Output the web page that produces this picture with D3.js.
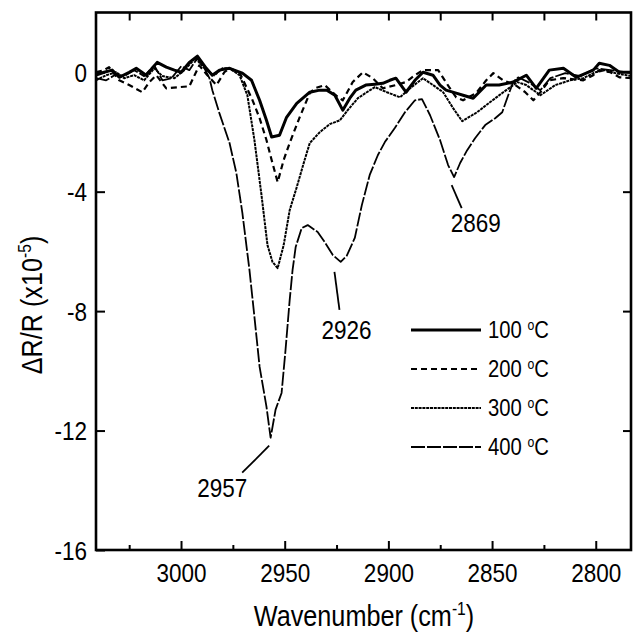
<!DOCTYPE html>
<html><head><meta charset="utf-8">
<script src="https://cdn.jsdelivr.net/npm/d3@7"></script>
<style>html,body{margin:0;padding:0;background:#fff}svg{display:block}</style>
</head><body><svg id="c" width="636" height="635"></svg>
<script>
// ---- data (wavenumber in cm^-1, dR/R in units of 1e-5) ----
const wn100=[3041.0,3037.1,3033.2,3029.8,3025.0,3021.6,3016.8,3011.5,3007.1,3003.2,2999.9,2996.0,2992.1,2987.8,2984.9,2981.5,2976.6,2970.4,2966.0,2962.1,2958.8,2956.3,2952.5,2949.1,2944.2,2937.9,2933.1,2929.7,2925.8,2922.0,2918.6,2915.7,2910.9,2906.5,2902.7,2899.3,2896.4,2891.5,2887.2,2883.3,2878.5,2875.1,2872.2,2867.3,2864.0,2859.1,2852.8,2846.6,2839.8,2833.5,2828.7,2822.4,2815.6,2809.4,2801.2,2798.3,2793.4,2788.6,2782.8];
const r100=[-0.10,0,0.07,-0.17,0,0.13,-0.10,0.33,0.17,0.07,0,0.33,0.54,0.13,-0.10,0.07,0.13,-0.03,-0.27,-0.94,-1.61,-2.17,-2.11,-1.51,-1.04,-0.67,-0.60,-0.60,-0.77,-1.27,-0.87,-0.60,-0.43,-0.40,-0.37,-0.27,-0.20,-0.67,-0.27,0,-0.10,-0.43,-0.60,-0.70,-0.77,-0.87,-0.43,-0.43,-0.33,-0.10,-0.54,0.07,0.13,-0.17,0.07,0.30,0.23,0,0];

const wn200=[3041.0,3037.1,3034.7,3029.8,3025.0,3018.7,3015.3,3011.9,3007.1,3000.8,2996.0,2991.2,2987.3,2982.9,2979.1,2976.6,2971.8,2965.5,2962.1,2958.8,2956.3,2953.4,2950.5,2947.6,2942.8,2937.9,2935.5,2930.7,2925.4,2922.0,2917.2,2912.3,2907.5,2902.7,2896.4,2891.5,2887.2,2883.3,2876.0,2870.7,2867.3,2864.0,2857.7,2852.8,2849.4,2844.6,2838.8,2834.0,2830.1,2826.7,2822.4,2815.6,2806.0,2801.2,2798.3,2793.0,2788.6,2782.8];
const r200=[0,0.07,0.17,-0.27,-0.43,-0.67,-0.33,-0.10,-0.54,-0.50,-0.47,0.23,-0.10,-0.43,0,0.13,0,-0.94,-1.54,-2.27,-2.94,-3.68,-2.94,-2.37,-1.51,-0.70,-0.54,-0.43,-0.77,-0.94,-0.33,0,-0.20,-0.54,-0.43,-0.33,-0.10,0.07,0.07,-0.50,-0.84,-0.94,-0.70,-0.27,-0.03,-0.27,-0.43,-0.67,-0.94,-0.67,-0.27,-0.20,-0.27,-0.10,0.07,0,-0.17,-0.20];

const wn300=[3041.0,3036.1,3031.3,3027.4,3022.6,3017.8,3012.9,3009.0,3003.2,2998.4,2993.1,2987.8,2983.9,2980.0,2976.6,2971.8,2968.0,2964.6,2961.2,2958.3,2955.9,2953.4,2950.5,2947.6,2944.2,2940.4,2937.9,2933.1,2928.3,2923.4,2919.6,2914.7,2910.4,2906.5,2900.7,2894.4,2889.6,2883.3,2878.5,2873.6,2868.8,2864.4,2857.2,2850.9,2844.6,2837.8,2833.5,2826.7,2819.5,2812.3,2806.0,2800.2,2795.4,2790.6,2782.8];
const r300=[-0.27,-0.10,0,-0.20,-0.10,-0.27,0.13,-0.13,-0.20,0.07,0.47,0.07,-0.10,0.13,0.13,-0.10,-0.77,-2.27,-4.11,-5.79,-6.35,-6.56,-5.79,-4.62,-3.85,-2.94,-2.37,-2.01,-1.74,-1.61,-1.27,-0.87,-0.67,-0.50,-0.67,-0.84,-0.54,-0.20,-0.43,-0.67,-1.20,-1.64,-1.34,-1.00,-0.67,-0.33,-0.43,-0.77,-0.43,-0.27,-0.20,0,0.07,-0.03,-0.13];

const wn400=[3041.0,3036.1,3031.3,3027.4,3022.6,3017.8,3012.9,3009.0,3004.6,2999.9,2996.0,2992.1,2988.7,2986.3,2984.9,2981.5,2976.6,2973.3,2970.4,2967.0,2964.6,2962.1,2958.8,2956.8,2954.4,2951.5,2949.6,2947.6,2946.2,2944.7,2941.8,2938.9,2934.1,2930.7,2926.8,2923.0,2920.1,2916.2,2912.8,2909.0,2905.1,2901.7,2896.9,2892.0,2887.2,2883.8,2879.9,2875.1,2871.2,2868.3,2865.4,2862.0,2858.2,2853.3,2848.5,2845.1,2842.2,2839.8,2837.4,2832.6,2826.7,2821.9,2814.7,2807.4,2800.2,2793.0,2782.8];
const r400=[-0.20,-0.27,-0.07,-0.13,0.07,-0.13,0.23,-0.27,-0.20,0.20,0.07,0.47,0.13,-0.20,-0.60,-1.37,-2.37,-3.38,-4.72,-6.62,-8.19,-9.87,-11.20,-12.24,-11.30,-10.74,-9.30,-7.63,-6.62,-5.85,-5.22,-5.12,-5.35,-5.69,-6.12,-6.35,-6.15,-5.55,-4.45,-3.44,-2.78,-2.34,-1.87,-1.34,-0.94,-0.90,-1.44,-2.27,-3.11,-3.51,-3.04,-2.61,-2.21,-1.77,-1.54,-1.34,-0.77,-0.33,-0.17,-0.33,-0.60,-0.20,-0.03,-0.13,0.13,0.07,-0.03];

const seriesLabels=["100","200","300","400"];
const xTickValues=[3000,2950,2900,2850,2800];
const xMinorValues=[3025,2975,2925,2875,2825];
const xTopValues=[3025,3000,2975,2950,2925,2900,2875,2850,2825,2800];
const yTickValues=[0,-4,-8,-12,-16];
const yRightValues=[-4,-8,-12];
const peakWn=[2957,2926,2869];
const peakVal=[-12.24,-6.35,-3.51];
const peakLabels=["2957","2926","2869"];

// ---- layout ----
const L=96,R=631,T=12.5,B=550;
const FONT="'Liberation Sans', Arial, Helvetica, sans-serif";
const x=d3.scaleLinear().domain([3041,2783]).range([L,R]);
const y=d3.scaleLinear().domain([2,-16]).range([T,B]);
const svg=d3.select("#c");
svg.append("rect").attr("width",636).attr("height",635).attr("fill","#fff");
svg.append("defs").append("clipPath").attr("id","clip").append("rect")
  .attr("x",L).attr("y",T).attr("width",R-L).attr("height",B-T);

const styles=[
  {w:3,dash:null},
  {w:2.2,dash:"6,4"},
  {w:2,dash:"3,0.8"},
  {w:1.8,dash:"14,2"}
];
const series=[[wn100,r100],[wn200,r200],[wn300,r300],[wn400,r400]];
const line=d3.line().x(d=>x(d[0])).y(d=>y(d[1]));
const gl=svg.append("g").attr("clip-path","url(#clip)");
series.forEach((s,k)=>{
  const pts=s[0].map((w,i)=>[w,s[1][i]]).filter(d=>d[1]!==undefined);
  gl.append("path").datum(pts).attr("d",line)
    .attr("fill","none").attr("stroke","#000")
    .attr("stroke-width",styles[k].w)
    .attr("stroke-dasharray",styles[k].dash)
    .attr("stroke-linejoin","round");
});

// ---- axes ----
function styleAxis(g){
  g.select(".domain").remove();
  g.selectAll(".tick line").attr("stroke","#000").attr("stroke-width",2);
  g.selectAll("text").attr("fill","#000").style("font-family",FONT).style("font-size","25px")
    .attr("transform","scale(0.9,1)");
}
const fmt=d=>String(d);
svg.append("g").attr("transform",`translate(0,${B})`)
  .call(d3.axisBottom(x).tickValues(xTickValues).tickSize(-9).tickPadding(14).tickFormat(fmt))
  .call(styleAxis);
svg.append("g").attr("transform",`translate(0,${B})`)
  .call(d3.axisBottom(x).tickValues(xMinorValues).tickSize(-5).tickFormat(""))
  .call(styleAxis);
svg.append("g").attr("transform",`translate(0,${T})`)
  .call(d3.axisTop(x).tickValues(xTopValues).tickSize(-8).tickFormat(""))
  .call(styleAxis);
svg.append("g").attr("transform",`translate(${L},0)`)
  .call(d3.axisLeft(y).tickValues(yTickValues).tickSize(-9).tickPadding(10).tickFormat(fmt))
  .call(styleAxis)
  .call(g=>g.selectAll("text").attr("dy","0.36em"));
svg.append("g").attr("transform",`translate(${R},0)`)
  .call(d3.axisRight(y).tickValues(yRightValues).tickSize(-8).tickFormat(""))
  .call(styleAxis);
svg.append("rect").attr("x",L).attr("y",T).attr("width",R-L).attr("height",B-T)
  .attr("fill","none").attr("stroke","#000").attr("stroke-width",2.6);

// ---- axis titles ----
const xt=svg.append("g").attr("transform",`translate(364,626) scale(0.87,1)`)
  .append("text").attr("text-anchor","middle").style("font-family",FONT).style("font-size","29px").attr("fill","#000");
xt.append("tspan").text("Wavenumber (cm");
xt.append("tspan").text("-1").style("font-size","18px").attr("dy",-11);
xt.append("tspan").text(")").attr("dy",11);

const yt=svg.append("g").attr("transform",`translate(42,305) rotate(-90) scale(0.87,1)`)
  .append("text").attr("text-anchor","middle").style("font-family",FONT).style("font-size","29px").attr("fill","#000");
yt.append("tspan").text("ΔR/R (x10");
yt.append("tspan").text("-5").style("font-size","18px").attr("dy",-11);
yt.append("tspan").text(")").attr("dy",11);

// ---- peak annotations ----
const annOff=[
  {l0:[-1,8],l1:[-28,35],t:[-48,50]},
  {l0:[0,10],l1:[5,48],t:[12,68]},
  {l0:[-1,8],l1:[9,31],t:[23,46]}
];
peakWn.forEach((w,i)=>{
  const px=x(w), py=y(peakVal[i]), o=annOff[i];
  svg.append("line").attr("x1",px+o.l0[0]).attr("y1",py+o.l0[1]).attr("x2",px+o.l1[0]).attr("y2",py+o.l1[1])
    .attr("stroke","#000").attr("stroke-width",1.8);
  svg.append("g").attr("transform",`translate(${px+o.t[0]},${py+o.t[1]}) scale(0.9,1)`)
    .append("text").attr("text-anchor","middle").attr("dy","0.36em")
    .style("font-family",FONT).style("font-size","25px").attr("fill","#000").text(peakLabels[i]);
});

// ---- legend ----
const legY0=330, legDY=39, legX0=411, legX1=481, legTX=488;
seriesLabels.forEach((lab,k)=>{
  const yy=legY0+k*legDY;
  svg.append("line").attr("x1",legX0).attr("x2",legX1).attr("y1",yy).attr("y2",yy)
    .attr("stroke","#000").attr("stroke-width",styles[k].w).attr("stroke-dasharray",styles[k].dash);
  const t=svg.append("g").attr("transform",`translate(${legTX},${yy+8}) scale(0.88,1)`)
    .append("text").style("font-family",FONT).style("font-size","23px").attr("fill","#000");
  t.append("tspan").text(lab+" ");
  t.append("tspan").text("o").style("font-size","14px").attr("dy",-8);
  t.append("tspan").text("C").attr("dy",8);
});
</script></body></html>
